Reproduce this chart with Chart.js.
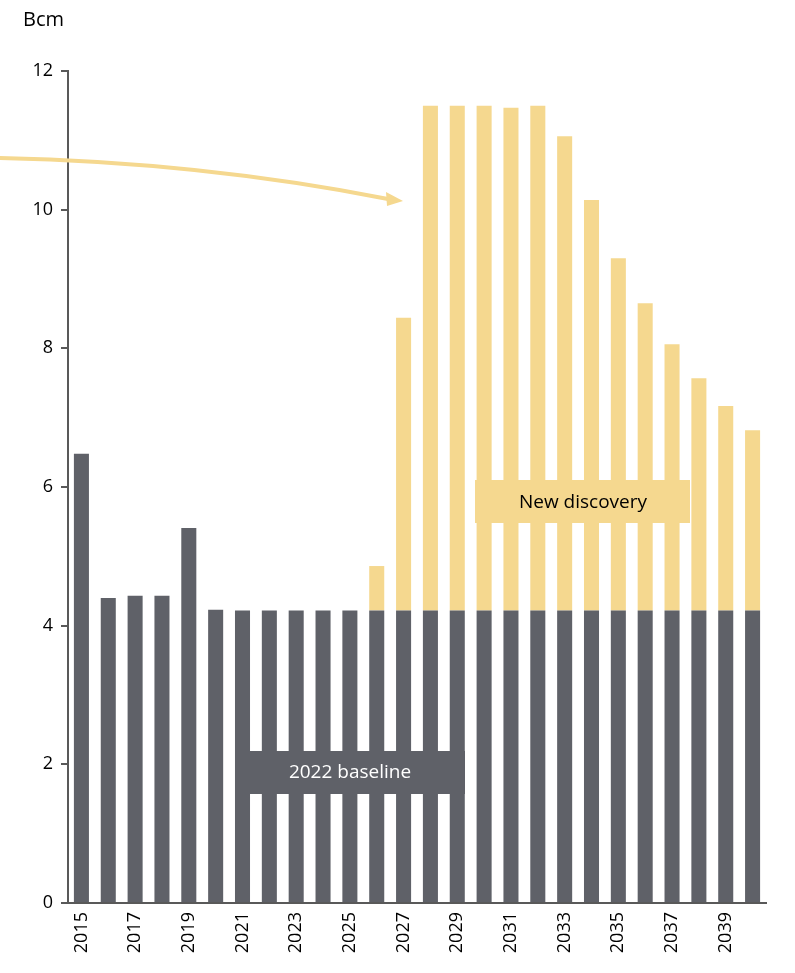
<!DOCTYPE html>
<html><head><meta charset="utf-8">
<script src="https://cdn.jsdelivr.net/npm/chart.js@4/dist/chart.umd.min.js"></script>
<style>html,body{margin:0;padding:0;background:#fff}#wrap{width:795px;height:973px;position:relative}</style>
</head><body><div id="wrap"><canvas id="c" width="795" height="973"></canvas></div>
<script>
const years = ['2015','2016','2017','2018','2019','2020','2021','2022','2023','2024','2025','2026','2027','2028','2029','2030','2031','2032','2033','2034','2035','2036','2037','2038','2039','2040'];
const baseline = [6.48,4.40,4.43,4.43,5.41,4.23,4.22,4.22,4.22,4.22,4.22,4.22,4.22,4.22,4.22,4.22,4.22,4.22,4.22,4.22,4.22,4.22,4.22,4.22,4.22,4.22];
const newDiscovery = [0,0,0,0,0,0,0,0,0,0,0,0.64,4.22,7.28,7.28,7.28,7.25,7.28,6.84,5.92,5.08,4.43,3.84,3.35,2.95,2.60];
const yTicks = [0,2,4,6,8,10,12];

const GRAY = '#5F6168', YEL = '#F5D88F', AXIS = '#595959';
const FONT = '"Open Sans", Lato, sans-serif';

const overlay = {
  id:'overlay',
  afterDraw(chart){
    const ctx = chart.ctx;
    ctx.save();
    ctx.fillStyle = '#000';
    ctx.font = '20px ' + FONT;
    ctx.textAlign='left'; ctx.textBaseline='middle';
    ctx.fillText('Bcm', 23, 20);
    // arrow
    ctx.strokeStyle = YEL; ctx.lineWidth = 4; ctx.lineCap='round';
    ctx.beginPath();
    ctx.moveTo(-2,158);
    ctx.quadraticCurveTo(200,162,388,199);
    ctx.stroke();
    ctx.fillStyle = YEL;
    ctx.beginPath();
    ctx.moveTo(403,201); ctx.lineTo(386,192); ctx.lineTo(387,206); ctx.closePath(); ctx.fill();
    // label boxes
    ctx.fillStyle = GRAY; ctx.fillRect(235,751,230,43);
    ctx.fillStyle = '#fff'; ctx.font='19px ' + FONT; ctx.textAlign='center';
    ctx.fillText('2022 baseline', 350, 773);
    ctx.fillStyle = YEL; ctx.fillRect(475,480,215,43);
    ctx.fillStyle = '#000';
    ctx.fillText('New discovery', 583, 503);
    ctx.restore();
  }
};

new Chart(document.getElementById('c'), {
  type:'bar',
  data:{ labels: years, datasets:[
    {label:'2022 baseline', data: baseline, backgroundColor: GRAY, barPercentage:0.56, categoryPercentage:1},
    {label:'New discovery', data: newDiscovery, backgroundColor: YEL, barPercentage:0.56, categoryPercentage:1}
  ]},
  options:{
    responsive:false, animation:false,
    layout:{padding:{top:71, right:29, left:0, bottom:0}},
    plugins:{legend:{display:false}, tooltip:{enabled:false}},
    scales:{
      x:{stacked:true, grid:{display:false, drawTicks:false},
         border:{color:AXIS, width:2},
         ticks:{autoSkip:false, minRotation:90, maxRotation:90, padding:9, color:'#000', font:{family:FONT, size:18},
                callback:(v,i)=> i%2===0 ? years[i] : ''},
         afterFit:(s)=>{s.height = 70;}},
      y:{stacked:true, min:0, max:12,
         afterBuildTicks:(s)=>{s.ticks = yTicks.map(v=>({value:v}));},
         grid:{display:true, drawOnChartArea:false, drawTicks:true, tickLength:7, color:AXIS, lineWidth:2},
         border:{color:AXIS, width:2},
         ticks:{padding:8, color:'#000', font:{family:FONT, size:18}},
         afterFit:(s)=>{s.width = 68;}}
    }
  },
  plugins:[overlay]
});
</script></body></html>
